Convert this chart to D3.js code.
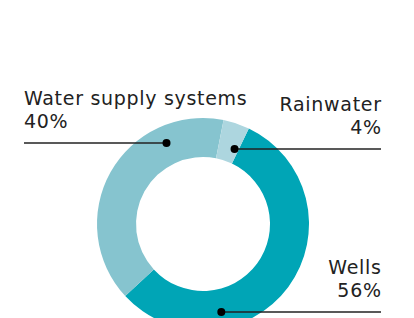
<!DOCTYPE html>
<html>
<head>
<meta charset="utf-8">
<script src="https://cdn.jsdelivr.net/npm/d3@7"></script>
<style>
  body { margin: 0; background: #fff; }
  svg { display: block; }
  text { font-family: "DejaVu Sans", sans-serif; font-size: 19px; letter-spacing: 0.7px; fill: #222; }
</style>
</head>
<body>
<div id="viz"></div>
<script>
const width = 414;
const height = 318;

// data
const categories = ['Wells', 'Water supply systems', 'Rainwater'];
const shares = [56, 40, 4];
const shareLabels = ['56%', '40%', '4%'];
const colors = ['#00a5b6', '#86c4cf', '#add6df'];

// layout of the callouts (angle of the dot in degrees, line y, side)
const callouts = [
  { dotAngle: 168, lineY: 312, side: 'right' },
  { dotAngle: -24.5, lineY: 143, side: 'left' },
  { dotAngle: 21, lineY: 149, side: 'right' },
];

const cx = 203;
const cy = 224;
const outerR = 106;
const innerR = 67;
const dotR = 88;
const startDeg = 25.6;

const svg = d3
  .select('#viz')
  .append('svg')
  .attr('width', width)
  .attr('height', height);

const pie = d3
  .pie()
  .sort(null)
  .startAngle((startDeg * Math.PI) / 180)
  .endAngle(((startDeg + 360) * Math.PI) / 180);

const arc = d3.arc().innerRadius(innerR).outerRadius(outerR);

const g = svg.append('g').attr('transform', `translate(${cx},${cy})`);

g.selectAll('path')
  .data(pie(shares))
  .enter()
  .append('path')
  .attr('d', arc)
  .attr('fill', (d, i) => colors[i]);

// callouts
callouts.forEach((c, i) => {
  const a = (c.dotAngle * Math.PI) / 180;
  const dx = cx + dotR * Math.sin(a);
  const x1 = c.side === 'left' ? 24 : dx;
  const x2 = c.side === 'left' ? dx : 381;

  svg
    .append('line')
    .attr('x1', x1)
    .attr('x2', x2)
    .attr('y1', c.lineY)
    .attr('y2', c.lineY)
    .attr('stroke', '#222')
    .attr('stroke-width', 1.5);

  svg
    .append('circle')
    .attr('cx', dx)
    .attr('cy', c.lineY)
    .attr('r', 4)
    .attr('fill', '#000');

  const tx = c.side === 'left' ? 24 : 381.7;
  const anchor = c.side === 'left' ? 'start' : 'end';
  const t = svg
    .append('text')
    .attr('x', tx)
    .attr('y', c.lineY - 38.5)
    .attr('text-anchor', anchor);
  t.append('tspan').attr('x', tx).text(categories[i]);
  t.append('tspan').attr('x', tx).attr('dy', 23).text(shareLabels[i]);
});
</script>
</body>
</html>
